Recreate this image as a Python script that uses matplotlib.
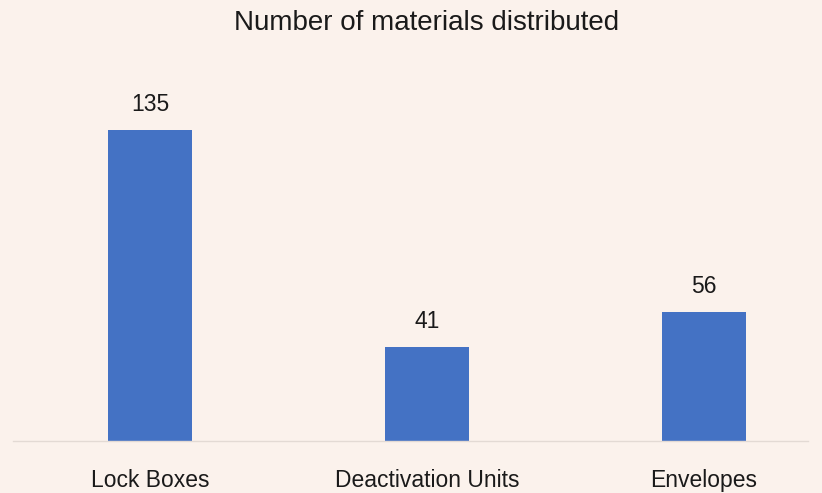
import matplotlib
matplotlib.use("Agg")
import matplotlib.pyplot as plt
from matplotlib import font_manager

categories = ["Lock Boxes", "Deactivation Units", "Envelopes"]
values = [135, 41, 56]
title = "Number of materials distributed"

names = {f.name for f in font_manager.fontManager.ttflist}
fam = "Liberation Sans Narrow" if "Liberation Sans Narrow" in names else "Liberation Sans"
plt.rcParams["font.family"] = [fam, "DejaVu Sans"]

bg = "#FBF2EC"
fig = plt.figure(figsize=(8.22, 4.93), dpi=100, facecolor=bg)
W, H = 822, 493
left, right, bottom, top = 13, 808, 441, 80
ax = fig.add_axes([left / W, 1 - bottom / H, (right - left) / W, (bottom - top) / H])
ax.set_facecolor(bg)

x = list(range(len(categories)))
bars = ax.bar(x, values, width=84 / 277, color="#4472C4", zorder=2)
ax.set_xlim(-137 / 277, 2 + 104 / 277)
ax.set_ylim(0, (bottom - top) / 2.304)

for b, v in zip(bars, values):
    ax.annotate(str(v), (b.get_x() + b.get_width() / 2, v), xytext=(0, 10),
                textcoords="offset points", ha="center", va="bottom",
                fontsize=16.5, color="#1a1a1a")

ax.set_xticks(x)
ax.set_xticklabels(categories, fontsize=16.5, color="#1a1a1a")
ax.tick_params(axis="x", length=0, pad=20)
ax.set_yticks([])
for s in ["top", "right", "left"]:
    ax.spines[s].set_visible(False)
ax.spines["bottom"].set_color("#E3DAD4")
ax.spines["bottom"].set_linewidth(1)

fig.text(427 / W, 1 - 23 / H, title, ha="center", va="center", fontsize=20, color="#1a1a1a")

fig.savefig("out.png", dpi=100, facecolor=bg)
